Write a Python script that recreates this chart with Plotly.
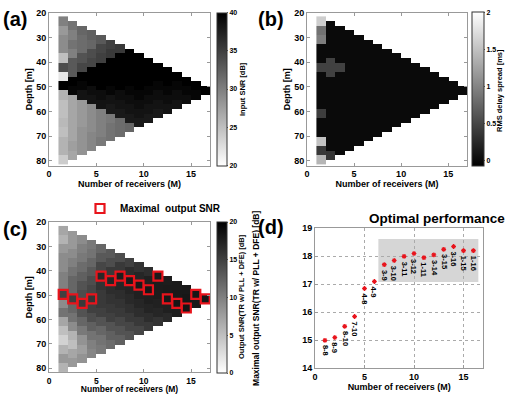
import plotly.graph_objects as go

# ---------------- data ----------------
M_VALUES = list(range(1, 17))          # number of receivers (columns)
ELEMENT_SPACING = 3.75                 # m between receivers
FIRST_DEPTH = 23.375                   # m, depth of receiver 1

# (a) input SNR [dB], one list per M, top (shallow) to bottom
input_snr = [
    [30, 28, 29, 29, 25, 34, 22, 40, 26, 25, 25, 25.5, 25, 26, 26, 24],
    [31, 30, 31, 30, 33, 33, 40, 39.5, 27, 27, 27, 27, 27, 27.5, 27],
    [32, 31.5, 31.5, 33.5, 34.5, 40, 39.5, 38.5, 28, 28, 28, 28.5, 28.5, 28.5],
    [32.5, 32, 34, 34.5, 40, 40, 39, 38.5, 29, 29, 29, 29.5, 29.5],
    [33, 34.5, 35, 40, 40, 40, 39, 38.5, 30, 30, 30, 30.5],
    [35, 35.5, 40, 40, 40, 39.5, 38.5, 38, 30.5, 31, 31],
    [35.5, 40, 40, 40, 40, 39, 38.5, 38, 31.5, 31.5],
    [40, 40, 40, 40, 39.5, 39, 38.5, 38, 32],
    [40, 40, 40, 40, 39.5, 39, 38.5, 38],
    [40, 40, 40, 39.5, 39, 38.5, 38],
    [40, 40, 39.5, 39, 38.5, 38],
    [40, 40, 39.5, 39, 38.5],
    [40, 39.5, 39, 38.5],
    [40, 39.5, 39],
    [40, 39.5],
    [40],
]

# (b) RMS delay spread [ms]
delay_spread = [
    [1.6, 0.85, 0.95, 0, 0, 0.45, 0, 0, 0, 0, 0.42, 0, 0, 1.5, 0.38, 1.4],
    [0, 0, 0, 0, 0.45, 0.45, 0, 0, 0, 0, 0, 0, 0, 0, 0.35],
    [0, 0, 0, 0, 0.45, 0, 0, 0, 0, 0, 0, 0, 0, 0],
    [0] * 13, [0] * 12, [0] * 11, [0] * 10, [0] * 9,
    [0] * 8, [0] * 7, [0] * 6, [0] * 5, [0] * 4, [0] * 3, [0] * 2, [0],
]

# (c) output SNR (TR w/ PLL + DFE) [dB]
output_snr = [
    [7, 6, 8, 9, 9, 10, 10, 15.0, 9, 11, 7, 5, 3.5, 6, 8, 6],
    [8, 8, 9, 10, 11, 12, 12, 15.1, 12, 11, 9, 6, 5, 7, 8],
    [9, 10, 10.5, 11.5, 12.5, 13.5, 14, 15.5, 13.5, 12, 10.5, 8.5, 7.5, 8.5],
    [10.5, 11, 12, 13, 14, 14.5, 15.85, 15, 14, 12.5, 11, 10, 9.5],
    [12, 13, 14.5, 16.85, 16, 15.5, 15.5, 15, 13.5, 12, 11, 10.5],
    [13, 14, 15.5, 17.1, 16.5, 16, 15.5, 15, 13.5, 12.5, 11.5],
    [14, 15.5, 17.7, 17, 16.5, 16, 15.5, 14.5, 13.5, 12.5],
    [15, 16.5, 17.85, 17.2, 16.8, 16.2, 15.5, 14.5, 13.5],
    [16, 17, 18.0, 17.5, 17, 16.5, 15.5, 14.5],
    [16.5, 17.5, 18.1, 17.6, 17.2, 16.5, 15.5],
    [17.95, 17.8, 17.7, 17.4, 17, 16],
    [17.7, 17.9, 18.05, 17.5, 16.8],
    [17.9, 18.0, 18.25, 17.6],
    [18.0, 18.2, 18.35],
    [18.2, 18.0],
    [18.2],
]

# (d) maximal output SNR per M and the chosen sub-array
max_output_snr = [15.0, 15.1, 15.5, 15.85, 16.85, 17.1, 17.7, 17.85,
                  18.0, 18.1, 17.95, 18.05, 18.25, 18.35, 18.2, 18.2]
best_subarrays = ["8-8", "8-9", "8-10", "7-10", "4-8", "4-9", "3-9", "3-10",
                  "3-11", "3-12", "1-11", "3-14", "3-15", "3-16", "1-15", "1-16"]
optimal_region_x = [6.4, 16.5]
optimal_region_y = [17.08, 18.62]

# ---------------- helpers ----------------
n_rows = 2 * len(M_VALUES)
y_edges = [FIRST_DEPTH - ELEMENT_SPACING / 2 + r * ELEMENT_SPACING / 2 for r in range(n_rows + 1)]
x_edges = [m for m in M_VALUES] + [M_VALUES[-1] + 1]


def to_grid(columns):
    z = [[None] * len(M_VALUES) for _ in range(n_rows)]
    for ci, (m, col) in enumerate(zip(M_VALUES, columns)):
        for s, v in enumerate(col):
            r0 = 2 * s + (m - 1)
            z[r0][ci] = v
            z[r0 + 1][ci] = v
    return z


FONT = "Liberation Sans"
W, H = 505, 394


def px_x(p):
    return p / W


def px_y(p):
    return 1 - p / H


white_black = [[0, "white"], [1, "black"]]
black_white = [[0, "black"], [1, "white"]]


def cbar(x_px, top, bottom, thick, tickvals):
    return dict(
        x=px_x(x_px), xanchor="left", xpad=0, ypad=0,
        y=px_y((top + bottom) / 2), yanchor="middle",
        len=(bottom - top) / H, lenmode="fraction",
        thickness=thick, thicknessmode="pixels",
        outlinewidth=1, outlinecolor="#333",
        ticks="outside", ticklen=1, tickcolor="#666",
        tickvals=tickvals,
        tickfont=dict(family=FONT, size=7, color="black", weight="bold"),
    )


fig = go.Figure()

fig.add_trace(go.Heatmap(
    x=x_edges, y=y_edges, z=to_grid(input_snr), xaxis="x", yaxis="y",
    zmin=20, zmax=40, colorscale=white_black, hoverongaps=False,
    colorbar=cbar(217, 12.3, 165.7, 10, [20, 25, 30, 35, 40]),
))
fig.add_trace(go.Heatmap(
    x=x_edges, y=y_edges, z=to_grid(delay_spread), xaxis="x2", yaxis="y2",
    zmin=-0.08, zmax=2, colorscale=black_white, hoverongaps=False,
    colorbar=cbar(472, 12.3, 166.5, 12, [0, 0.5, 1, 1.5, 2]),
))
fig.add_trace(go.Heatmap(
    x=x_edges, y=y_edges, z=to_grid(output_snr), xaxis="x3", yaxis="y3",
    zmin=0, zmax=20, colorscale=white_black, hoverongaps=False,
    colorbar=cbar(217, 222, 373, 10, [0, 5, 10, 15, 20]),
))

# red squares on the maximal cells
sq_x, sq_y = [], []
for lab in best_subarrays:
    s, e = (int(t) for t in lab.split("-"))
    m = e - s + 1
    sq_x.append(m + 0.5)
    sq_y.append(FIRST_DEPTH + ELEMENT_SPACING * (s + e - 2) / 2)
fig.add_trace(go.Scatter(
    x=sq_x, y=sq_y, xaxis="x3", yaxis="y3", mode="markers",
    name="Maximal  output SNR", showlegend=True,
    marker=dict(symbol="square-open", size=9, color="#e8141c", line=dict(width=2.2, color="#e8141c")),
))

# (d)
fig.add_trace(go.Scatter(
    x=M_VALUES, y=max_output_snr, xaxis="x4", yaxis="y4", mode="markers",
    showlegend=False,
    marker=dict(symbol="asterisk-open", size=4, color="#e8141c", line=dict(width=1.2, color="#e8141c")),
))

axis_font = dict(family=FONT, size=9, color="black", weight="bold")
title_font = dict(family=FONT, size=9, color="black", weight="bold")


def hm_x(domain, anchor, tsize=9):
    return dict(domain=domain, anchor=anchor, range=[0, 17], tickvals=[0, 5, 10, 15],
                showline=True, mirror="ticks", linecolor="#999", linewidth=1,
                ticks="inside", ticklen=3, tickcolor="#999", showgrid=False, zeroline=False,
                tickfont=dict(axis_font, size=tsize), automargin=False,
                title=dict(text="Number of receivers (M)", font=dict(title_font, size=tsize), standoff=0))


def hm_y(domain, anchor, rng):
    return dict(domain=domain, anchor=anchor, range=rng, tickvals=[20, 30, 40, 50, 60, 70, 80],
                showline=True, mirror="ticks", linecolor="#999", linewidth=1,
                ticks="inside", ticklen=3, tickcolor="#999", showgrid=False, zeroline=False,
                tickfont=axis_font, automargin=False,
                title=dict(text="Depth [m]", font=title_font, standoff=2))


top_dom = [px_y(165.6), px_y(12.7)]
bot_dom = [px_y(372.3), px_y(222.3)]

annotations = []
for lab_txt, xp, yp in [("(a)", 15, 19), ("(b)", 271, 19), ("(c)", 15, 229), ("(d)", 271, 227)]:
    annotations.append(dict(text=lab_txt, x=px_x(xp), y=px_y(yp), xref="paper", yref="paper",
                            showarrow=False, xanchor="center", yanchor="middle",
                            font=dict(family=FONT, size=20, color="black", weight="bold")))
# colour-bar titles
for cb_txt, xp, yp in [("Input SNR [dB]", 242, 89), ("RMS delay spread [ms]", 500, 91),
                       ("Output SNR(TR w/ PLL + DFE) [dB]", 241, 297)]:
    annotations.append(dict(text=cb_txt, x=px_x(xp), y=px_y(yp), xref="paper", yref="paper",
                            showarrow=False, xanchor="center", yanchor="middle", textangle=-90,
                            font=dict(family=FONT, size=7.5, color="black", weight="bold")))
annotations.append(dict(text="Optimal performance", x=px_x(437), y=px_y(218), xref="paper", yref="paper",
                        showarrow=False, xanchor="center", yanchor="middle",
                        font=dict(family=FONT, size=13.5, color="black", weight="bold")))
for m, v, lab in zip(M_VALUES, max_output_snr, best_subarrays):
    annotations.append(dict(text=lab, x=m, y=v, xref="x4", yref="y4", showarrow=False,
                            textangle=90, xanchor="center", yanchor="top", yshift=-3,
                            font=dict(family=FONT, size=7.5, color="black", weight="bold")))

fig.update_layout(
    width=W, height=H, margin=dict(l=0, r=0, t=0, b=0, autoexpand=False),
    paper_bgcolor="white", plot_bgcolor="white",
    font=dict(family=FONT, color="black", weight="bold"),
    xaxis=hm_x([px_x(49), px_x(210)], "y"),
    yaxis=hm_y(top_dom, "x", [82, 20]),
    xaxis2=hm_x([px_x(307), px_x(467)], "y2"),
    yaxis2=hm_y(top_dom, "x2", [82, 20]),
    xaxis3=hm_x([px_x(49), px_x(210)], "y3", tsize=8.5),
    yaxis3=hm_y(bot_dom, "x3", [81.7, 20]),
    xaxis4=dict(domain=[px_x(315), px_x(483.3)], anchor="y4", range=[0, 17], tickvals=[0, 5, 10, 15],
                showline=True, mirror=True, linecolor="#999", linewidth=1,
                ticks="inside", ticklen=3, tickcolor="#999", zeroline=False,
                showgrid=True, gridcolor="#aaa", griddash="dot", gridwidth=1,
                tickfont=axis_font, automargin=False,
                title=dict(text="Number of receivers (M)", font=title_font, standoff=0)),
    yaxis4=dict(domain=[px_y(368.3), px_y(228.3)], anchor="x4", range=[14, 19],
                tickvals=[14, 15, 16, 17, 18, 19],
                showline=True, mirror=True, linecolor="#999", linewidth=1,
                ticks="inside", ticklen=3, tickcolor="#999", zeroline=False,
                showgrid=True, gridcolor="#aaa", griddash="dot", gridwidth=1,
                tickfont=axis_font, automargin=False,
                title=dict(text="Maximal output SNR(TR w/ PLL + DFE) [dB]",
                           font=dict(family=FONT, size=8.5, color="black", weight="bold"), standoff=41)),
    shapes=[dict(type="rect", xref="x4", yref="y4", layer="below",
                 x0=optimal_region_x[0], x1=optimal_region_x[1],
                 y0=optimal_region_y[0], y1=optimal_region_y[1],
                 fillcolor="#d6d6d6", line=dict(width=0))],
    legend=dict(x=px_x(80), y=px_y(208.5), xanchor="left", yanchor="middle",
                bgcolor="rgba(0,0,0,0)", borderwidth=0, itemwidth=30,
                font=dict(family=FONT, size=10, color="black", weight="bold")),
    annotations=annotations,
)

fig.write_html("out.html")
